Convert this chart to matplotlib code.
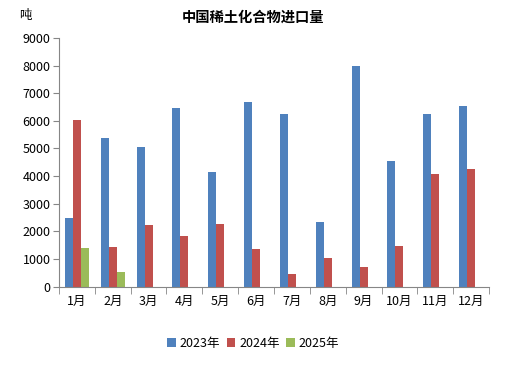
import numpy as np
import matplotlib
matplotlib.use("Agg")
from matplotlib import pyplot as plt

plt.rcParams['font.family'] = ['Noto Sans CJK SC', 'DejaVu Sans']

months = ["1月", "2月", "3月", "4月", "5月", "6月", "7月", "8月", "9月", "10月", "11月", "12月"]
series_names = ["2023年", "2024年", "2025年"]
y2023 = [2480, 5380, 5050, 6470, 4150, 6690, 6250, 2330, 7990, 4550, 6250, 6540]
y2024 = [6030, 1430, 2220, 1830, 2260, 1350, 450, 1030, 700, 1460, 4070, 4250]
y2025 = [1390, 520]
colors = ["#4F81BD", "#C0504D", "#9BBB59"]

fig = plt.figure(figsize=(5.07, 3.65), dpi=100)
ax = fig.add_axes([59/507, 1 - 286.5/365, 430/507, 248.5/365])

x = np.arange(len(months))
w = 0.222
for i, (vals, name) in enumerate(zip([y2023, y2024, y2025], series_names)):
    xs = x[:len(vals)] + (i - 1) * w
    ax.bar(xs, vals, width=w, color=colors[i], label=name, linewidth=0)

ax.set_xlim(-0.5, 11.5)
ax.set_ylim(0, 9000)
ax.set_yticks(range(0, 9001, 1000))
ax.set_xticks(x)
ax.set_xticklabels(months)
ax.set_xticks(np.arange(-0.5, 12, 1), minor=True)
ax.tick_params(axis='x', which='major', length=0, pad=6, labelsize=9)
ax.tick_params(axis='x', which='minor', length=5, color='#868686', direction='out')
ax.tick_params(axis='y', length=4, color='#868686', labelsize=9, pad=2)
for s in ['top', 'right']:
    ax.spines[s].set_visible(False)
for s in ['left', 'bottom']:
    ax.spines[s].set_color('#868686')

fig.text(253/507, 1 - 18/365, "中国稀土化合物进口量", ha='center', va='center',
         fontsize=10.3, fontweight='bold')
fig.text(25/507, 1 - 16/365, "吨", ha='center', va='center', fontsize=9)

fig.legend(loc='center', bbox_to_anchor=(253/507, 1 - 343/365), ncol=3, frameon=False,
           fontsize=9, handlelength=0.7, handleheight=0.7, handletextpad=0.3,
           columnspacing=0.5)

plt.savefig("out.png", dpi=100)
